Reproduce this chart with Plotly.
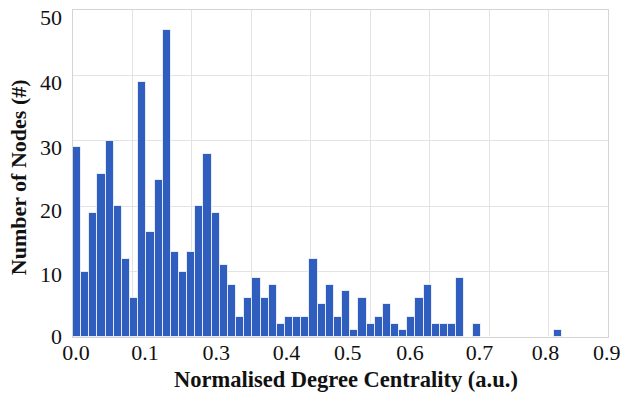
import plotly.graph_objects as go

# Histogram counts (60 equal-width bins from 0 to max centrality)
counts = [29, 10, 19, 25, 30, 20, 12, 6, 39, 16,
          24, 47, 13, 10, 13, 20, 28, 19, 11, 8,
          3, 6, 9, 6, 8, 2, 3, 3, 3, 12,
          5, 8, 3, 7, 1, 6, 2, 3, 5, 2,
          1, 3, 6, 8, 2, 2, 2, 9, 0, 2,
          0, 0, 0, 0, 0, 0, 0, 0, 0, 1]
centrality_max = 0.823

# tick labels as printed in the reference (label positions do not sit on the grid)
x_tick_text = ["0.0", "0.1", "0.3", "0.4", "0.5", "0.6", "0.7", "0.8", "0.9"]
x_tick_pos = [0.005, 0.121, 0.241, 0.359, 0.462, 0.567, 0.684, 0.795, 0.898]
y_tick_text = ["0", "10", "20", "30", "40", "50"]
y_tick_pos = [0.1, 9.6, 19.4, 29.0, 39.0, 48.9]

x_title = "Normalised Degree Centrality (a.u.)"
y_title = "Number of Nodes (#)"

n_bins = len(counts)
bw = centrality_max / n_bins
centers = [(i + 0.5) * bw for i in range(n_bins)]

FONT = "Liberation Serif, Times New Roman, serif"
FS = 22
TXT = "#111111"

fig = go.Figure()
fig.add_trace(go.Bar(
    x=centers, y=counts, width=bw,
    marker=dict(color="#2F5EBE", line=dict(color="rgba(255,255,255,0.75)", width=1)),
    showlegend=False,
))
# invisible trace to activate the label axes
fig.add_trace(go.Scatter(x=[0, 0.9], y=[0, 50], xaxis="x2", yaxis="y2", mode="markers",
                         marker=dict(opacity=0), showlegend=False, hoverinfo="skip"))

fig.update_layout(
    width=626, height=395,
    margin=dict(l=73, r=14, t=5, b=58),
    paper_bgcolor="white", plot_bgcolor="white",
    font=dict(family=FONT, size=FS, color=TXT),
    bargap=0,
    xaxis=dict(range=[0, 0.9], dtick=0.1, tick0=0, showticklabels=False,
               showgrid=True, gridcolor="#e3e3e3", gridwidth=1,
               showline=True, linecolor="#d4d4d4", linewidth=1, mirror=True,
               zeroline=False, ticks=""),
    yaxis=dict(range=[0, 50], dtick=10, tick0=0, showticklabels=False,
               showgrid=True, gridcolor="#e3e3e3", gridwidth=1,
               showline=True, linecolor="#d4d4d4", linewidth=1, mirror=True,
               zeroline=False, ticks=""),
    xaxis2=dict(range=[0, 0.9], overlaying="x", anchor="y2", side="bottom",
                tickmode="array", tickvals=x_tick_pos, ticktext=x_tick_text,
                showgrid=False, zeroline=False, ticks="", showline=False,
                tickfont=dict(family=FONT, size=FS, color=TXT)),
    yaxis2=dict(range=[0, 50], overlaying="y", anchor="x2", side="left",
                tickmode="array", tickvals=y_tick_pos, ticktext=y_tick_text,
                showgrid=False, zeroline=False, ticks="", showline=False,
                ticklabelstandoff=10,
                tickfont=dict(family=FONT, size=FS, color=TXT)),
    annotations=[
        dict(text=f"<b>{x_title}</b>", xref="paper", yref="paper",
             x=0.511, y=-0.13, xanchor="center", yanchor="middle", showarrow=False,
             font=dict(family=FONT, size=22.5, color=TXT)),
        dict(text=f"<b>{y_title}</b>", xref="paper", yref="paper",
             x=-0.102, y=0.49, xanchor="center", yanchor="middle", showarrow=False,
             textangle=-90, font=dict(family=FONT, size=FS, color=TXT)),
    ],
)

fig.write_html("out.html")
